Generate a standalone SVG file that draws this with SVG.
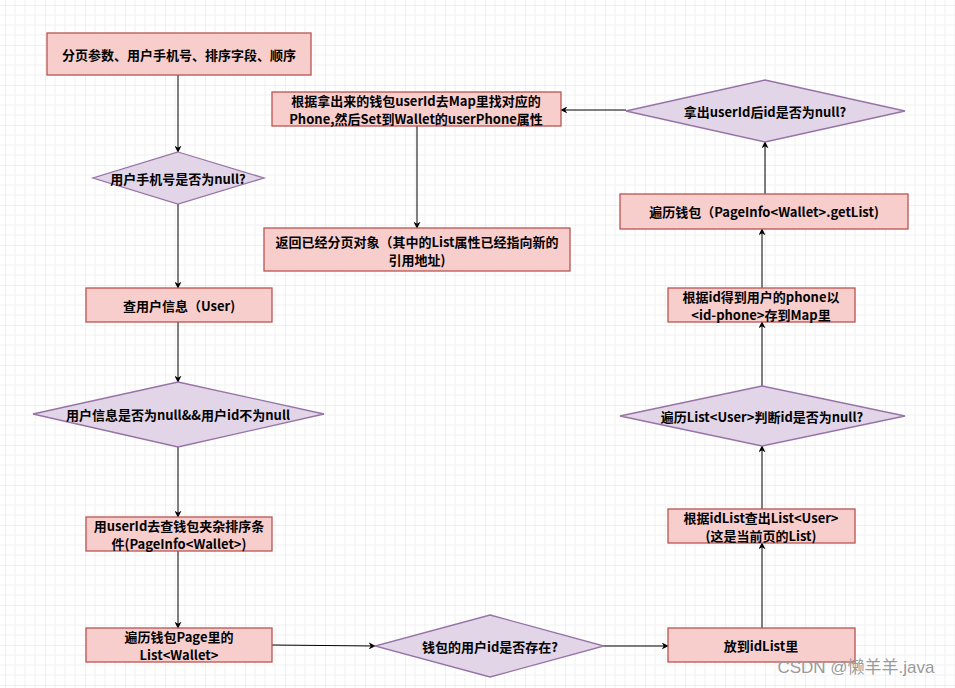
<svg xmlns="http://www.w3.org/2000/svg" width="955" height="688" viewBox="0 0 955 688">
<defs>
<pattern id="g" width="40" height="40" patternUnits="userSpaceOnUse" x="5" y="5">
<path d="M10 0V40M20 0V40M30 0V40M0 10H40M0 20H40M0 30H40" stroke="#f0f0f0" stroke-width="1" fill="none"/>
<path d="M0 0V40M0 0H40" stroke="#e0e0e0" stroke-width="1" fill="none"/>
</pattern>
<marker id="a" viewBox="0 0 10 10" refX="9" refY="5" markerWidth="7" markerHeight="7" orient="auto" markerUnits="userSpaceOnUse">
<path d="M0 0L10 5L0 10L3 5Z" fill="#000"/>
</marker>
<style>
.b{fill:#f8cecc;stroke:#b85450;stroke-width:1.3}
.d{fill:#e1d5e7;stroke:#9673a6;stroke-width:1.3}
text{font-family:"Noto Sans CJK SC","Microsoft YaHei",sans-serif;font-size:13px;font-weight:bold;fill:#000;text-anchor:middle;dominant-baseline:central}
.c line{stroke:#000;stroke-width:1;marker-end:url(#a)}
</style>
</defs>
<rect width="955" height="688" fill="#fff"/>
<rect width="955" height="688" fill="url(#g)"/>
<g class="c">
<line x1="178" y1="75" x2="178" y2="152"/>
<line x1="178" y1="204" x2="178" y2="288"/>
<line x1="178" y1="322" x2="178" y2="382"/>
<line x1="178" y1="447" x2="178" y2="517"/>
<line x1="178" y1="551" x2="178" y2="628"/>
<line x1="272" y1="645" x2="375" y2="646"/>
<line x1="604" y1="646" x2="668" y2="646"/>
<line x1="762" y1="628" x2="762" y2="543"/>
<line x1="762" y1="509" x2="762" y2="446"/>
<line x1="762" y1="386" x2="762" y2="322"/>
<line x1="762" y1="288" x2="762" y2="229"/>
<line x1="765" y1="194" x2="765" y2="142"/>
<line x1="626" y1="110" x2="561" y2="110"/>
<line x1="417" y1="126" x2="417" y2="228"/>
</g>
<g id="n1"><rect class="b" x="47" y="33" width="264" height="42"/><text x="179" y="54">分页参数、用户手机号、排序字段、顺序</text></g>
<g id="n2"><polygon class="d" points="178,152 264,178 178,204 93,178"/><text x="178" y="178">用户手机号是否为null?</text></g>
<g id="n3"><rect class="b" x="86" y="288" width="186" height="34"/><text x="179" y="305">查用户信息（User)</text></g>
<g id="n4"><polygon class="d" points="178,382 324,414 178,447 33,414"/><text x="178" y="414">用户信息是否为null&amp;&amp;用户id不为null</text></g>
<g id="n5"><rect class="b" x="86" y="517" width="186" height="34"/><text x="179" y="525">用userId去查钱包夹杂排序条</text><text x="179" y="543">件(PageInfo&lt;Wallet&gt;)</text></g>
<g id="n6"><rect class="b" x="86" y="628" width="186" height="34"/><text x="179" y="636">遍历钱包Page里的</text><text x="179" y="654">List&lt;Wallet&gt;</text></g>
<g id="n7"><polygon class="d" points="490,615 604,646 490,677 375,646"/><text x="490" y="646">钱包的用户id是否存在?</text></g>
<g id="n8"><rect class="b" x="668" y="628" width="187" height="34"/><text x="761" y="645">放到idList里</text></g>
<g id="n9"><rect class="b" x="668" y="509" width="187" height="34"/><text x="761" y="517">根据idList查出List&lt;User&gt;</text><text x="761" y="535">(这是当前页的List)</text></g>
<g id="n10"><polygon class="d" points="762,386 905,416 762,446 620,416"/><text x="762" y="416">遍历List&lt;User&gt;判断id是否为null?</text></g>
<g id="n11"><rect class="b" x="668" y="288" width="187" height="34"/><text x="761" y="296">根据id得到用户的phone以</text><text x="761" y="314">&lt;id-phone&gt;存到Map里</text></g>
<g id="n12"><rect class="b" x="620" y="194" width="288" height="35"/><text x="764" y="211">遍历钱包（PageInfo&lt;Wallet&gt;.getList)</text></g>
<g id="n13"><polygon class="d" points="765,80 905,111 765,142 626,111"/><text x="765" y="111">拿出userId后id是否为null?</text></g>
<g id="n14"><rect class="b" x="272" y="92" width="289" height="34"/><text x="416" y="100">根据拿出来的钱包userId去Map里找对应的</text><text x="416" y="118">Phone,然后Set到Wallet的userPhone属性</text></g>
<g id="n15"><rect class="b" x="264" y="228" width="306" height="43"/><text x="417" y="241">返回已经分页对象（其中的List属性已经指向新的</text><text x="417" y="259">引用地址)</text></g>
<text x="856" y="667" style="font-weight:normal;font-size:17px;fill:#9a9a9a;font-family:'Liberation Sans','Noto Sans CJK SC',sans-serif">CSDN @懒羊羊.java</text>
</svg>
